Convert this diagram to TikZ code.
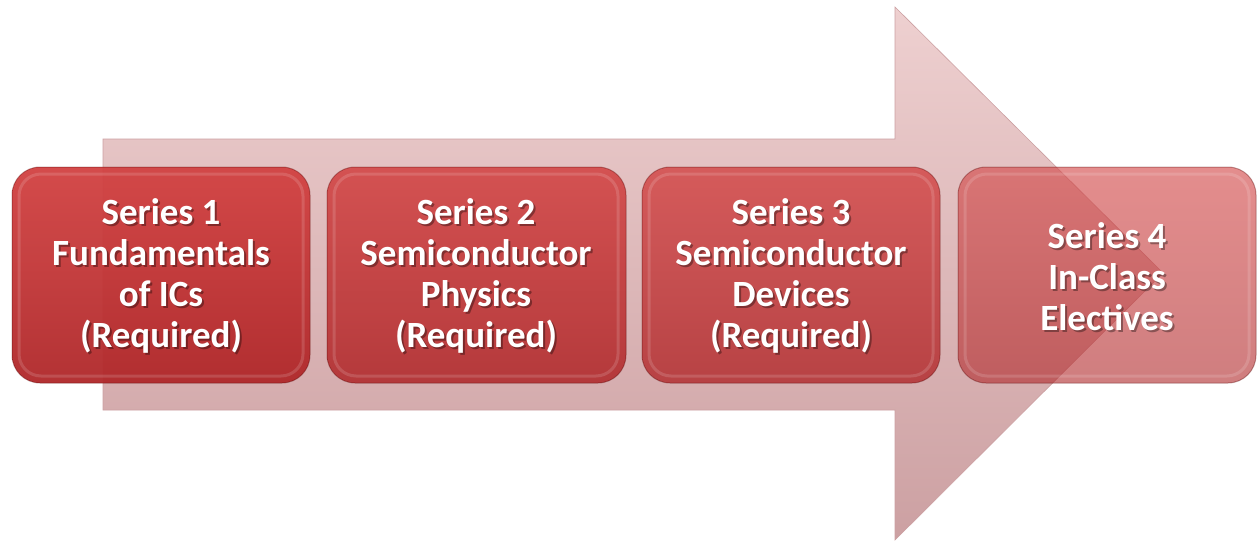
\documentclass[tikz,border=0pt]{standalone}
\usepackage{fontspec}
\setmainfont{Carlito}
\begin{document}
\begin{tikzpicture}[x=1pt,y=-1pt,
  boxbase/.style={rounded corners=28pt, draw=red!35!black, draw opacity=0.35, line width=1pt},
  lbl/.style={text=white, font=\bfseries\fontsize{37}{41}\selectfont, align=center},
  lblshadow/.style={text=black, text opacity=0.35, font=\bfseries\fontsize{37}{41}\selectfont, align=center}
]
\definecolor{boxtop}{RGB}{210,66,66}
\definecolor{boxbot}{RGB}{176,40,42}
\definecolor{arrtop}{RGB}{238,208,208}
\definecolor{arrbot}{RGB}{204,160,162}
\useasboundingbox (0,0) rectangle (1260,543);
\fill[white] (0,0) rectangle (1260,543);
% big arrow
\coordinate (bl) at (103,139);
\coordinate (hb) at (895,139);
\coordinate (ht) at (895,7);
\coordinate (tip) at (1163,273);
\coordinate (hbb) at (895,540);
\coordinate (hbl) at (895,410);
\coordinate (bb) at (103,410);
\shade[top color=arrtop, bottom color=arrbot, draw=arrbot, line width=0.6pt]
  (bl) -- (hb) -- (ht) -- (tip) -- (hbb) -- (hbl) -- (bb) -- cycle;
% boxes
\shade[boxbase, top color=boxtop, bottom color=boxbot, fill opacity=0.95]
  (12,167) rectangle (310,383);
\shade[boxbase, top color=boxtop, bottom color=boxbot, fill opacity=0.87]
  (327,167) rectangle (626,383);
\shade[boxbase, top color=boxtop, bottom color=boxbot, fill opacity=0.8]
  (642,167) rectangle (940,383);
\shade[boxbase, top color=boxtop, bottom color=boxbot, fill opacity=0.6]
  (958,167) rectangle (1256,383);
% inner highlights
\foreach \x in {12,327,642,958}{
  \draw[white, opacity=0.14, line width=3pt, rounded corners=22pt]
    (\x+7,174) rectangle (\x+291,376);
}
% labels
\node[lblshadow] (s1) at (163,278) {Series 1\\Fundamentals\\of ICs\\(Required)};
\node[lbl] (t1) at (161,276) {Series 1\\Fundamentals\\of ICs\\(Required)};
\node[lblshadow] (s2) at (478,278) {Series 2\\Semiconductor\\Physics\\(Required)};
\node[lbl] (t2) at (476,276) {Series 2\\Semiconductor\\Physics\\(Required)};
\node[lblshadow] (s3) at (793,278) {Series 3\\Semiconductor\\Devices\\(Required)};
\node[lbl] (t3) at (791,276) {Series 3\\Semiconductor\\Devices\\(Required)};
\node[lblshadow] (s4) at (1109,279) {Series 4\\In-Class\\Electives};
\node[lbl] (t4) at (1107,277) {Series 4\\In-Class\\Electives};
\end{tikzpicture}
\end{document}
